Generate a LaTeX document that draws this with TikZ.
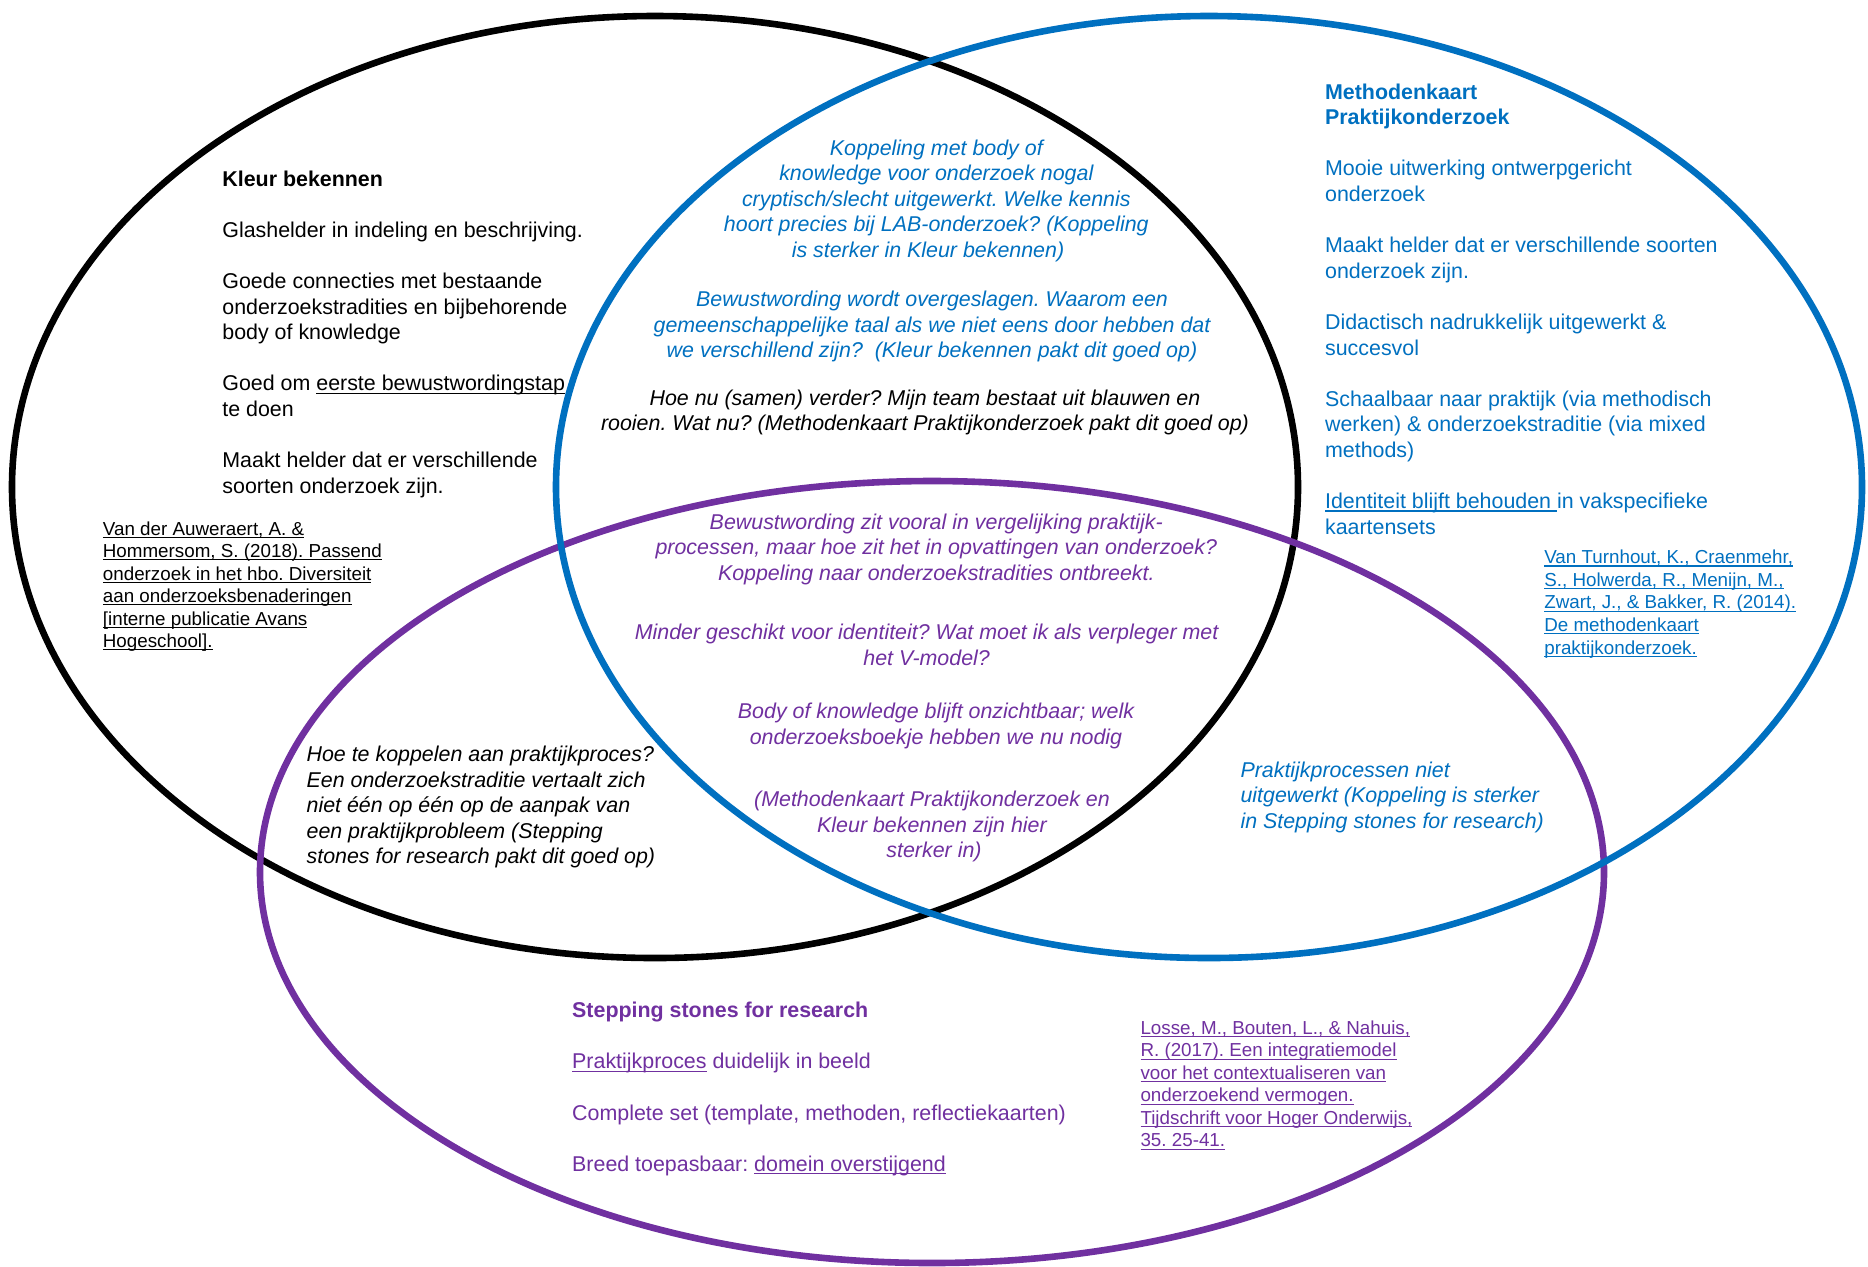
\documentclass[tikz,border=0pt]{standalone}
\usepackage{fontspec}
\setmainfont{Liberation Sans}
\frenchspacing
\definecolor{vblue}{HTML}{0070C0}
\definecolor{vpurple}{HTML}{7030A0}
\newcommand\myul[1]{\setbox0\hbox{#1}\rlap{\rule[-1.4pt]{\wd0}{0.55pt}}\box0\relax}
\tikzset{
  txt/.style={inner sep=0pt, font=\fontsize{10.7}{12.8}\selectfont},
  itx/.style={inner sep=0pt, font=\fontsize{10.7}{12.8}\selectfont\itshape},
  sml/.style={inner sep=0pt, font=\fontsize{9.4}{11.3}\selectfont},
  ring/.style={line width=3.3pt},
}
\begin{document}
\begin{tikzpicture}[x=0.5pt,y=-0.5pt]
\fill[white] (0,0) rectangle (1868,1266);
\path[use as bounding box] (0,0) rectangle (1868,1266);
% circles
\draw[ring, black] (655,487) ellipse [x radius=321.5pt, y radius=235.5pt];
\draw[ring, vpurple] (932,872) ellipse [x radius=336pt, y radius=195.5pt];
\draw[ring, vblue] (1209,487) ellipse [x radius=326.5pt, y radius=235.5pt];

\begin{scope}[yshift=-1pt]
% Kleur bekennen
\foreach \k/\t in {0/{\textbf{Kleur bekennen}},
  2/{Glashelder in indeling en beschrijving.},
  4/{Goede connecties met bestaande},
  5/{onderzoekstradities en bijbehorende},
  6/{body of knowledge},
  8/{Goed om \myul{eerste bewustwordingstap}},
  9/{te doen},
  11/{Maakt helder dat er verschillende},
  12/{soorten onderzoek zijn.}}
  \node[txt, anchor=base west] (kb\k) at (222,{184.1+\k*25.6}) {\t};

\foreach \k/\t in {0/{Van der Auweraert, A. \&},
  1/{Hommersom, S. (2018). Passend},
  2/{onderzoek in het hbo. Diversiteit},
  3/{aan onderzoeksbenaderingen},
  4/{[interne publicatie Avans},
  5/{Hogeschool].}}
  \node[sml, anchor=base west] (kbref\k) at (102.5,{533.1+\k*22.5}) {\myul{\t}};

% Methodenkaart
\foreach \k/\t in {0/{\textbf{Methodenkaart}},
  1/{\textbf{Praktijkonderzoek}},
  3/{Mooie uitwerking ontwerpgericht},
  4/{onderzoek},
  6/{Maakt helder dat er verschillende soorten},
  7/{onderzoek zijn.},
  9/{Didactisch nadrukkelijk uitgewerkt \&},
  10/{succesvol},
  12/{Schaalbaar naar praktijk (via methodisch},
  13/{werken) \& onderzoekstraditie (via mixed},
  14/{methods)},
  16/{\myul{Identiteit blijft behouden\ }in vakspecifieke},
  17/{kaartensets}}
  \node[txt, text=vblue, anchor=base west] (mk\k) at (1324.7,{97.1+\k*25.6}) {\t};

\foreach \k/\t in {0/{Van Turnhout, K., Craenmehr,},
  1/{S., Holwerda, R., Menijn, M.,},
  2/{Zwart, J., \& Bakker, R. (2014).},
  3/{De methodenkaart},
  4/{praktijkonderzoek.}}
  \node[sml, text=vblue, anchor=base west] (mkref\k) at (1543.9,{561.7+\k*22.6}) {\myul{\t}};

% Stepping stones
\foreach \k/\t in {0/{\textbf{Stepping stones for research}},
  2/{\myul{Praktijkproces} duidelijk in beeld},
  4/{Complete set (template, methoden, reflectiekaarten)},
  6/{Breed toepasbaar: \myul{domein overstijgend}}}
  \node[txt, text=vpurple, anchor=base west] (ss\k) at (571.8,{1015.6+\k*25.6}) {\t};

\foreach \k/\t in {0/{Losse, M., Bouten, L., \& Nahuis,},
  1/{R. (2017). Een integratiemodel},
  2/{voor het contextualiseren van},
  3/{onderzoekend vermogen.},
  4/{Tijdschrift voor Hoger Onderwijs,},
  5/{35. 25-41.}}
  \node[sml, text=vpurple, anchor=base west] (ssref\k) at (1140.1,{1032.3+\k*22.5}) {\myul{\t}};

% black & blue overlap
\foreach \k/\x/\t in {0/936.3/{Koppeling met body of},
  1/936.3/{knowledge voor onderzoek nogal},
  2/936.3/{cryptisch/slecht uitgewerkt. Welke kennis},
  3/936.3/{hoort precies bij LAB-onderzoek? (Koppeling},
  4/928/{is sterker in Kleur bekennen)}}
  \node[itx, text=vblue, anchor=base] (kbmkA\k) at (\x,{153.1+\k*25.6}) {\t};
\foreach \k/\t in {0/{Bewustwording wordt overgeslagen. Waarom een},
  1/{gemeenschappelijke taal als we niet eens door hebben dat},
  2/{we verschillend zijn?\ \ (Kleur bekennen pakt dit goed op)}}
  \node[itx, text=vblue, anchor=base] (kbmkB\k) at (932,{304.4+\k*25.6}) {\t};
\foreach \k/\t in {0/{Hoe nu (samen) verder? Mijn team bestaat uit blauwen en},
  1/{rooien. Wat nu? (Methodenkaart Praktijkonderzoek pakt dit goed op)}}
  \node[itx, anchor=base] (kbmkC\k) at (925,{403.3+\k*25.6}) {\t};

% centre (all three)
\foreach \k/\t in {0/{Bewustwording zit vooral in vergelijking praktijk-},
  1/{processen, maar hoe zit het in opvattingen van onderzoek?},
  2/{Koppeling naar onderzoekstradities ontbreekt.}}
  \node[itx, text=vpurple, anchor=base] (allA\k) at (936.3,{527.2+\k*25.6}) {\t};
\foreach \k/\t in {0/{Minder geschikt voor identiteit? Wat moet ik als verpleger met},
  1/{het V-model?}}
  \node[itx, text=vpurple, anchor=base] (allB\k) at (926.6,{637.9+\k*25.6}) {\t};
\foreach \k/\t in {0/{Body of knowledge blijft onzichtbaar; welk},
  1/{onderzoeksboekje hebben we nu nodig}}
  \node[itx, text=vpurple, anchor=base] (allC\k) at (936,{716.6+\k*25.6}) {\t};
\foreach \k/\x/\t in {0/932/{(Methodenkaart Praktijkonderzoek en},
  1/932/{Kleur bekennen zijn hier},
  2/934/{sterker in)}}
  \node[itx, text=vpurple, anchor=base] (allD\k) at (\x,{804.7+\k*25.6}) {\t};

% black & purple overlap
\foreach \k/\t in {0/{Hoe te koppelen aan praktijkproces?},
  1/{Een onderzoekstraditie vertaalt zich},
  2/{niet één op één op de aanpak van},
  3/{een praktijkprobleem (Stepping},
  4/{stones for research pakt dit goed op)}}
  \node[itx, anchor=base west] (kbss\k) at (306.2,{759.5+\k*25.6}) {\t};

% blue & purple overlap
\foreach \k/\t in {0/{Praktijkprocessen niet},
  1/{uitgewerkt (Koppeling is sterker},
  2/{in Stepping stones for research)}}
  \node[itx, text=vblue, anchor=base west] (mkss\k) at (1240.1,{775+\k*25.6}) {\t};
\end{scope}
\end{tikzpicture}
\end{document}
